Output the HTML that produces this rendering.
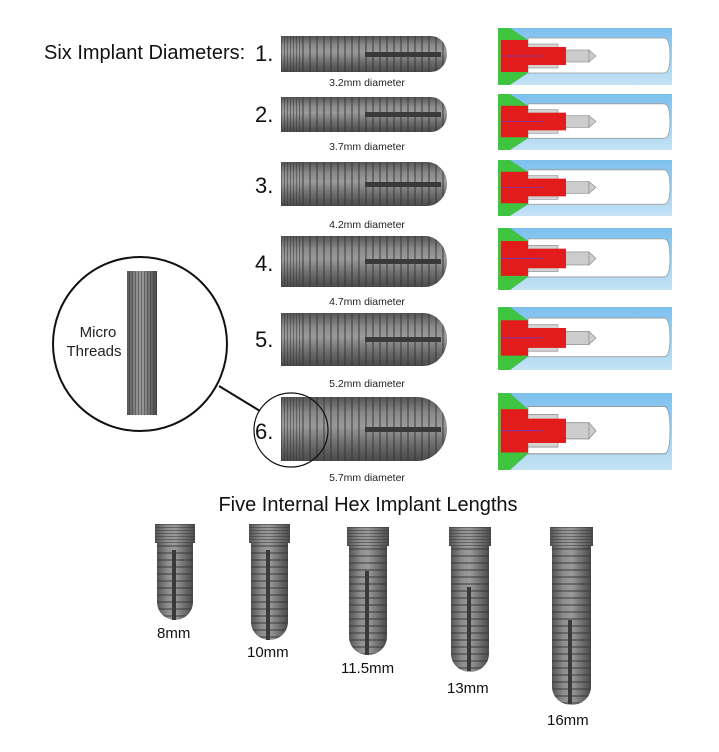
<!DOCTYPE html>
<html><head><meta charset="utf-8"><style>
body{margin:0;background:#fff;}
svg{display:block;font-family:"Liberation Sans",sans-serif;}
</style></head><body>
<svg width="719" height="752" viewBox="0 0 719 752" xmlns="http://www.w3.org/2000/svg">
<defs>
<linearGradient id="mv" x1="0" y1="0" x2="0" y2="1">
<stop offset="0" stop-color="#555"/><stop offset="0.25" stop-color="#8a8a8a"/><stop offset="0.45" stop-color="#9a9a9a"/><stop offset="0.75" stop-color="#6a6a6a"/><stop offset="1" stop-color="#4a4a4a"/></linearGradient>
<linearGradient id="mh" x1="0" y1="0" x2="1" y2="0">
<stop offset="0" stop-color="#555"/><stop offset="0.3" stop-color="#8e8e8e"/><stop offset="0.5" stop-color="#9a9a9a"/><stop offset="0.8" stop-color="#6a6a6a"/><stop offset="1" stop-color="#4a4a4a"/></linearGradient>
<linearGradient id="sky" x1="0" y1="0" x2="0" y2="1">
<stop offset="0" stop-color="#7cc0ee"/><stop offset="1" stop-color="#c4e2f4"/></linearGradient>
<pattern id="tv" width="7" height="10" patternUnits="userSpaceOnUse"><rect x="0" y="0" width="2" height="10" fill="#333" opacity="0.45"/></pattern>
<pattern id="th" width="10" height="7" patternUnits="userSpaceOnUse"><rect x="0" y="0" width="10" height="2" fill="#333" opacity="0.45"/></pattern>
<pattern id="mt" width="3" height="10" patternUnits="userSpaceOnUse"><rect width="1" height="10" fill="#333" opacity="0.5"/></pattern>
<pattern id="mth" width="10" height="3" patternUnits="userSpaceOnUse"><rect width="10" height="1" fill="#333" opacity="0.5"/></pattern>
<symbol id="cs" viewBox="0 0 174 57" preserveAspectRatio="none" width="174" height="57">
<rect width="174" height="57" fill="url(#sky)"/>
<path d="M30 10H166Q172 10 172 28 172 45 166 45H30Z" fill="#fff" stroke="#999" stroke-width="0.8"/>
<path d="M0 0H12L30 12V45L12 57H0Z" fill="#3ec43e"/>
<rect x="30" y="16" width="30" height="24" fill="#d4d4d4" stroke="#888" stroke-width="0.6"/>
<rect x="66" y="22" width="25" height="12" fill="#ccc" stroke="#888" stroke-width="0.6"/>
<path d="M91 22L98 28 91 34Z" fill="#ccc" stroke="#888" stroke-width="0.6"/>
<rect x="3" y="12" width="27" height="32" fill="#e21b1b"/>
<rect x="30" y="19" width="38" height="18" fill="#e21b1b"/>
<line x1="3" y1="28" x2="45" y2="28" stroke="#44f" stroke-width="0.5"/>
</symbol>
</defs>

<text x="44" y="59" font-size="20" fill="#111">Six Implant Diameters:</text>

<g>
<g transform="translate(281,36)"><rect width="21" height="36" fill="url(#mv)"/><rect width="21" height="36" fill="url(#mt)"/><path d="M21 0H150A16 18 0 0 1 150 36H21Z" fill="url(#mv)"/><path d="M21 0H150A16 18 0 0 1 150 36H21Z" fill="url(#tv)"/><rect x="84" y="16" width="76" height="5" fill="#3a3a3a"/></g>
<g transform="translate(281,97)"><rect width="21" height="35" fill="url(#mv)"/><rect width="21" height="35" fill="url(#mt)"/><path d="M21 0H150A16 17.5 0 0 1 150 35H21Z" fill="url(#mv)"/><path d="M21 0H150A16 17.5 0 0 1 150 35H21Z" fill="url(#tv)"/><rect x="84" y="15" width="76" height="5" fill="#3a3a3a"/></g>
<g transform="translate(281,162)"><rect width="21" height="44" fill="url(#mv)"/><rect width="21" height="44" fill="url(#mt)"/><path d="M21 0H146A20 22 0 0 1 146 44H21Z" fill="url(#mv)"/><path d="M21 0H146A20 22 0 0 1 146 44H21Z" fill="url(#tv)"/><rect x="84" y="20" width="76" height="5" fill="#3a3a3a"/></g>
<g transform="translate(281,236)"><rect width="21" height="51" fill="url(#mv)"/><rect width="21" height="51" fill="url(#mt)"/><path d="M21 0H144A22 25.5 0 0 1 144 51H21Z" fill="url(#mv)"/><path d="M21 0H144A22 25.5 0 0 1 144 51H21Z" fill="url(#tv)"/><rect x="84" y="23" width="76" height="5" fill="#3a3a3a"/></g>
<g transform="translate(281,313)"><rect width="21" height="53" fill="url(#mv)"/><rect width="21" height="53" fill="url(#mt)"/><path d="M21 0H142A24 26.5 0 0 1 142 53H21Z" fill="url(#mv)"/><path d="M21 0H142A24 26.5 0 0 1 142 53H21Z" fill="url(#tv)"/><rect x="84" y="24" width="76" height="5" fill="#3a3a3a"/></g>
<g transform="translate(281,397)"><rect width="21" height="64" fill="url(#mv)"/><rect width="21" height="64" fill="url(#mt)"/><path d="M21 0H136A30 32 0 0 1 136 64H21Z" fill="url(#mv)"/><path d="M21 0H136A30 32 0 0 1 136 64H21Z" fill="url(#tv)"/><rect x="84" y="30" width="76" height="5" fill="#3a3a3a"/></g>
</g>
<g font-size="10.5" fill="#222" text-anchor="middle">
<text x="367" y="86">3.2mm diameter</text>
<text x="367" y="150">3.7mm diameter</text>
<text x="367" y="228">4.2mm diameter</text>
<text x="367" y="305">4.7mm diameter</text>
<text x="367" y="387">5.2mm diameter</text>
<text x="367" y="481">5.7mm diameter</text>
</g>
<g font-size="22" fill="#111">
<text x="255" y="61">1.</text>
<text x="255" y="122">2.</text>
<text x="255" y="193">3.</text>
<text x="255" y="271">4.</text>
<text x="255" y="347">5.</text>
<text x="255" y="439">6.</text>
</g>

<use href="#cs" x="498" y="28" width="174" height="57"/>
<use href="#cs" x="498" y="94" width="174" height="56"/>
<use href="#cs" x="498" y="160" width="174" height="56"/>
<use href="#cs" x="498" y="228" width="174" height="62"/>
<use href="#cs" x="498" y="307" width="174" height="63"/>
<use href="#cs" x="498" y="393" width="174" height="77"/>

<circle cx="140" cy="344" r="87" fill="#fff" stroke="#111" stroke-width="2"/>
<rect x="127" y="271" width="30" height="144" fill="url(#mh)"/>
<rect x="127" y="271" width="30" height="144" fill="url(#mt)"/>
<text x="98" y="337" font-size="15" fill="#222" text-anchor="middle">Micro</text>
<text x="94" y="356" font-size="15" fill="#222" text-anchor="middle">Threads</text>
<line x1="219" y1="386" x2="260" y2="411" stroke="#111" stroke-width="2"/>
<circle cx="291" cy="430" r="37" fill="none" stroke="#111" stroke-width="1.2"/>

<text x="368" y="511" font-size="20" fill="#111" text-anchor="middle">Five Internal Hex Implant Lengths</text>

<g>
<g transform="translate(155,524)"><rect width="40" height="19" fill="url(#mh)"/><rect width="40" height="19" fill="url(#mth)"/><path d="M2 19H38V78A18 18 0 0 1 2 78Z" fill="url(#mh)"/><path d="M2 19H38V78A18 18 0 0 1 2 78Z" fill="url(#th)"/><rect x="17" y="26" width="4" height="70" fill="#3a3a3a"/></g>
<g transform="translate(249,524)"><rect width="41" height="19" fill="url(#mh)"/><rect width="41" height="19" fill="url(#mth)"/><path d="M2 19H39V98A18.5 18 0 0 1 2 98Z" fill="url(#mh)"/><path d="M2 19H39V98A18.5 18 0 0 1 2 98Z" fill="url(#th)"/><rect x="17" y="26" width="4" height="90" fill="#3a3a3a"/></g>
<g transform="translate(347,527)"><rect width="42" height="19" fill="url(#mh)"/><rect width="42" height="19" fill="url(#mth)"/><path d="M2 19H40V110A19 18 0 0 1 2 110Z" fill="url(#mh)"/><path d="M2 19H40V110A19 18 0 0 1 2 110Z" fill="url(#th)"/><rect x="18" y="44" width="4" height="84" fill="#3a3a3a"/></g>
<g transform="translate(449,527)"><rect width="42" height="19" fill="url(#mh)"/><rect width="42" height="19" fill="url(#mth)"/><path d="M2 19H40V127A19 18 0 0 1 2 127Z" fill="url(#mh)"/><path d="M2 19H40V127A19 18 0 0 1 2 127Z" fill="url(#th)"/><rect x="18" y="60" width="4" height="84" fill="#3a3a3a"/></g>
<g transform="translate(550,527)"><rect width="43" height="19" fill="url(#mh)"/><rect width="43" height="19" fill="url(#mth)"/><path d="M2 19H41V160A19.5 18 0 0 1 2 160Z" fill="url(#mh)"/><path d="M2 19H41V160A19.5 18 0 0 1 2 160Z" fill="url(#th)"/><rect x="18" y="93" width="4" height="84" fill="#3a3a3a"/></g>
</g>
<g font-size="15" fill="#111">
<text x="157" y="638">8mm</text>
<text x="247" y="657">10mm</text>
<text x="341" y="673">11.5mm</text>
<text x="447" y="693">13mm</text>
<text x="547" y="725">16mm</text>
</g>
</svg>
</body></html>
